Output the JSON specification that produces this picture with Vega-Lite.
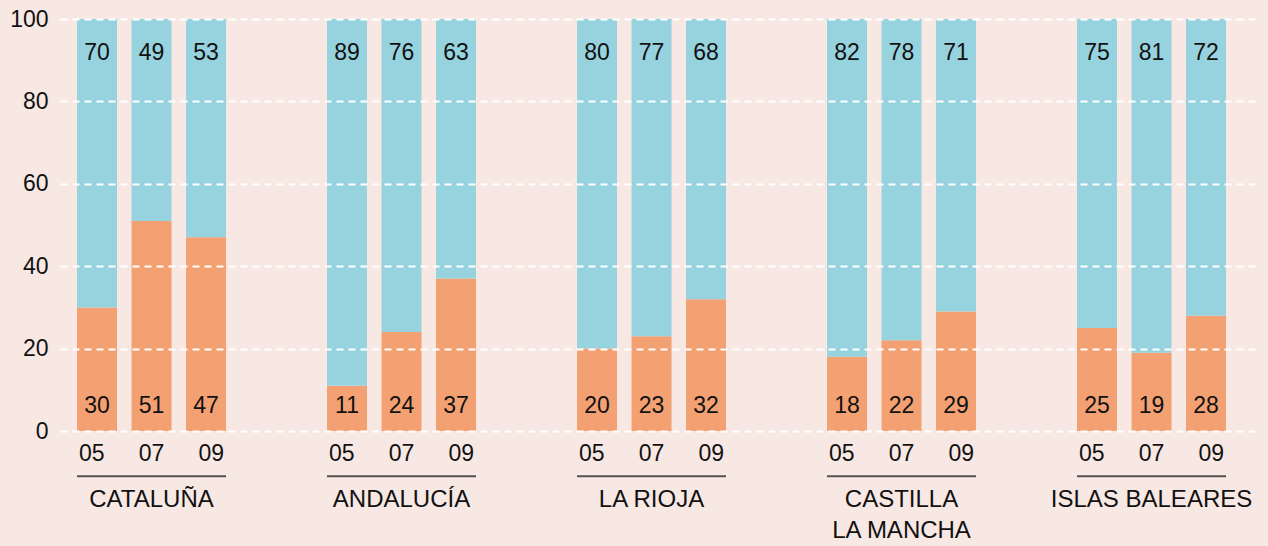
{
  "$schema": "https://vega.github.io/schema/vega-lite/v6.json",
  "width": 1195,
  "height": 412,
  "autosize": {"type": "none"},
  "padding": {"left": 60, "top": 19, "right": 13, "bottom": 115},
  "background": "#f8e8e4",
  "config": {
    "view": {"stroke": null},
    "font": "Liberation Sans",
    "text": {"font": "Liberation Sans", "fontSize": 23, "color": "#111111"}
  },
  "data": {
    "values": [
      {"region": "CATALUÑA", "year": "05", "serie": "s1", "value": 30},
      {"region": "CATALUÑA", "year": "05", "serie": "s2", "value": 70},
      {"region": "CATALUÑA", "year": "07", "serie": "s1", "value": 51},
      {"region": "CATALUÑA", "year": "07", "serie": "s2", "value": 49},
      {"region": "CATALUÑA", "year": "09", "serie": "s1", "value": 47},
      {"region": "CATALUÑA", "year": "09", "serie": "s2", "value": 53},
      {"region": "ANDALUCÍA", "year": "05", "serie": "s1", "value": 11},
      {"region": "ANDALUCÍA", "year": "05", "serie": "s2", "value": 89},
      {"region": "ANDALUCÍA", "year": "07", "serie": "s1", "value": 24},
      {"region": "ANDALUCÍA", "year": "07", "serie": "s2", "value": 76},
      {"region": "ANDALUCÍA", "year": "09", "serie": "s1", "value": 37},
      {"region": "ANDALUCÍA", "year": "09", "serie": "s2", "value": 63},
      {"region": "LA RIOJA", "year": "05", "serie": "s1", "value": 20},
      {"region": "LA RIOJA", "year": "05", "serie": "s2", "value": 80},
      {"region": "LA RIOJA", "year": "07", "serie": "s1", "value": 23},
      {"region": "LA RIOJA", "year": "07", "serie": "s2", "value": 77},
      {"region": "LA RIOJA", "year": "09", "serie": "s1", "value": 32},
      {"region": "LA RIOJA", "year": "09", "serie": "s2", "value": 68},
      {"region": "CASTILLA LA MANCHA", "year": "05", "serie": "s1", "value": 18},
      {"region": "CASTILLA LA MANCHA", "year": "05", "serie": "s2", "value": 82},
      {"region": "CASTILLA LA MANCHA", "year": "07", "serie": "s1", "value": 22},
      {"region": "CASTILLA LA MANCHA", "year": "07", "serie": "s2", "value": 78},
      {"region": "CASTILLA LA MANCHA", "year": "09", "serie": "s1", "value": 29},
      {"region": "CASTILLA LA MANCHA", "year": "09", "serie": "s2", "value": 71},
      {"region": "ISLAS BALEARES", "year": "05", "serie": "s1", "value": 25},
      {"region": "ISLAS BALEARES", "year": "05", "serie": "s2", "value": 75},
      {"region": "ISLAS BALEARES", "year": "07", "serie": "s1", "value": 19},
      {"region": "ISLAS BALEARES", "year": "07", "serie": "s2", "value": 81},
      {"region": "ISLAS BALEARES", "year": "09", "serie": "s1", "value": 28},
      {"region": "ISLAS BALEARES", "year": "09", "serie": "s2", "value": 72}
    ]
  },
  "encoding": {
    "x": {
      "field": "region",
      "type": "nominal",
      "sort": ["CATALUÑA", "ANDALUCÍA", "LA RIOJA", "CASTILLA LA MANCHA", "ISLAS BALEARES"],
      "scale": {"paddingInner": 0.404, "paddingOuter": 0.092, "align": 0.37},
      "axis": {
        "title": null,
        "domain": false,
        "ticks": false,
        "labelAngle": 0,
        "labelFont": "Liberation Sans",
        "labelFontSize": 24,
        "labelColor": "#111111",
        "labelPadding": 56,
        "labelBaseline": "top",
        "labelLineHeight": 31,
        "labelLimit": 0,
        "labelOverlap": false,
        "labelExpr": "datum.value == 'CASTILLA LA MANCHA' ? ['CASTILLA', 'LA MANCHA'] : datum.value"
      }
    }
  },
  "layer": [
    {
      "layer": [
        {
          "mark": {"type": "bar"},
          "encoding": {
            "xOffset": {"field": "year", "type": "nominal", "scale": {"paddingInner": 0.266, "paddingOuter": 0}},
            "y": {
              "field": "value",
              "type": "quantitative",
              "stack": "zero",
              "scale": {"domain": [0, 100], "nice": false},
              "axis": {
                "title": null,
                "values": [0, 20, 40, 60, 80, 100],
                "domain": false,
                "ticks": false,
                "grid": true,
                "gridColor": "#ffffff",
                "gridDash": [7, 5],
                "gridWidth": 2,
                "gridOpacity": 1,
                "labelFont": "Liberation Sans",
                "labelFontSize": 23,
                "labelColor": "#111111",
                "labelPadding": 12,
                "zindex": 1
              }
            },
            "color": {
              "field": "serie",
              "type": "nominal",
              "scale": {"domain": ["s1", "s2"], "range": ["#f3a172", "#97d3df"]},
              "legend": null
            },
            "order": {"field": "serie", "sort": "ascending"}
          }
        },
        {
          "transform": [{"filter": "datum.serie == 's2'"}],
          "mark": {"type": "text", "baseline": "middle", "align": "center"},
          "encoding": {
            "xOffset": {"field": "year", "type": "nominal"},
            "y": {"datum": 91.8},
            "text": {"field": "value", "type": "quantitative"}
          }
        },
        {
          "transform": [{"filter": "datum.serie == 's1'"}],
          "mark": {"type": "text", "baseline": "middle", "align": "center"},
          "encoding": {
            "xOffset": {"field": "year", "type": "nominal"},
            "y": {"datum": 6},
            "text": {"field": "value", "type": "quantitative"}
          }
        }
      ]
    },
    {
      "transform": [{"filter": "datum.serie == 's1'"}],
      "mark": {"type": "text", "baseline": "middle", "align": "center"},
      "encoding": {
        "xOffset": {"field": "year", "type": "nominal", "scale": {"type": "point", "padding": 0.247}},
        "y": {"datum": -5.5},
        "text": {"field": "year", "type": "nominal"}
      }
    },
    {
      "transform": [{"filter": "datum.serie == 's1' && datum.year == '05'"}],
      "mark": {"type": "tick", "size": 149, "thickness": 2, "color": "#555050", "opacity": 1},
      "encoding": {
        "y": {"datum": -11}
      }
    }
  ],
  "resolve": {"scale": {"xOffset": "independent"}}
}
